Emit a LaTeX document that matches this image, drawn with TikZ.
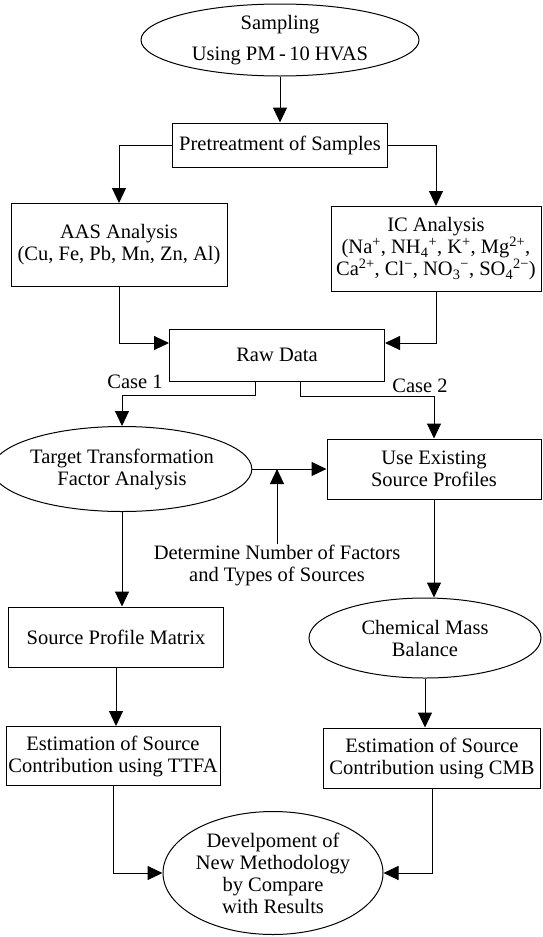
\documentclass[tikz,border=0pt]{standalone}
\usepackage{fontspec}
\setmainfont{Liberation Serif}
\usetikzlibrary{arrows.meta,shapes.geometric,positioning}
\newcommand{\chem}[2]{#1\textsuperscript{#2}}

\tikzset{
  box/.style={draw, rectangle, line width=1pt, align=center, inner sep=1pt},
  oval/.style={draw, ellipse, line width=1pt, align=center, inner sep=0pt},
  arr/.style={-{Triangle[length=15pt,width=14pt]}, line width=1pt},
  lbl/.style={align=center, inner sep=0pt}
}

\begin{document}
\begin{tikzpicture}[x=1pt,y=-1pt,font=\fontsize{20.5}{22}\selectfont]
    \useasboundingbox (0,0) rectangle (542,937);
    % top of the chart
    \node [oval,minimum width=278pt,minimum height=72pt] (samp) at (280,40) {Sampling\\[9pt]Using PM\,-\,10 HVAS};
    \node [box,minimum width=215pt,minimum height=44pt] (pretr) at (280,145) {Pretreatment of Samples};
    \node [box,minimum width=216pt,minimum height=83pt] (aas) at (119,245) {AAS Analysis\\(Cu, Fe, Pb, Mn, Zn, Al)};
    \node [box,minimum width=210pt,minimum height=85pt,inner sep=0pt] (ic) at (436,249) {IC Analysis\\
      (\chem{Na}{+}, \chem{NH\textsubscript{4}}{+}, \chem{K}{+}, \chem{Mg}{2+},\\
      \chem{Ca}{2+}, \chem{Cl}{−}, \chem{NO\textsubscript{3}}{−}, \chem{SO\textsubscript{4}}{2−})};
    \node [box,minimum width=215pt,minimum height=52pt] (raw) at (277,355) {Raw Data};
    \node [lbl] (case1) at (135,382) {Case 1};
    \node [lbl] (case2) at (420,386) {Case 2};
    % the two ways
    \node [oval,minimum width=232pt,minimum height=85pt] (ttfa) at (122,469) {Target Transformation\\Factor Analysis};
    \node [box,minimum width=214pt,minimum height=60pt] (useprof) at (434,469) {Use Existing\\Source Profiles};
    \node [lbl] (determ) at (277,565) {Determine Number of Factors\\and Types of Sources};
    \node [box,minimum width=215pt,minimum height=60pt] (spm) at (116,637) {Source Profile Matrix};
    \node [oval,minimum width=232pt,minimum height=80pt] (cmb) at (425,638) {Chemical Mass\\Balance};
    \node [box,minimum width=214pt,minimum height=59pt] (esttfa) at (113,756) {Estimation of Source\\Contribution using TTFA};
    \node [box,minimum width=217pt,minimum height=60pt] (estcmb) at (432,758) {Estimation of Source\\Contribution using CMB};
    \node [oval,minimum width=220pt,minimum height=123pt] (devel) at (273,873) {Develpoment of\\New Methodology\\by Compare\\with Results};

    \draw [arr] (samp.south) -- (pretr.north);
    \draw [arr] (pretr.west) -| (aas.north);
    \draw [arr] (pretr.east) -| (ic.north);
    \draw [arr] (aas.south) |- ([yshift=12pt]raw.west);
    \draw [arr] (ic.south) |- ([yshift=12pt]raw.east);
    \draw [arr] ([xshift=-22pt]raw.south) -- ++(0,14) -| (ttfa.north);
    \draw [arr] ([xshift=23pt]raw.south) -- ++(0,15) -| (useprof.north);
    \draw [arr] (ttfa.east) -- (useprof.west);
    \draw [arr] (determ.north) -- (determ.north |- ttfa.east);
    \draw [arr] (ttfa.south) -- (ttfa.south |- spm.north);
    \draw [arr] (spm.south) -- (spm.south |- esttfa.north);
    \draw [arr] (useprof.south) -- (useprof.south |- cmb.north);
    \draw [arr] (cmb.south) -- (cmb.south |- estcmb.north);
    \draw [arr] (esttfa.south) |- (devel.west);
    \draw [arr] (estcmb.south) |- (devel.east);
\end{tikzpicture}
\end{document}
